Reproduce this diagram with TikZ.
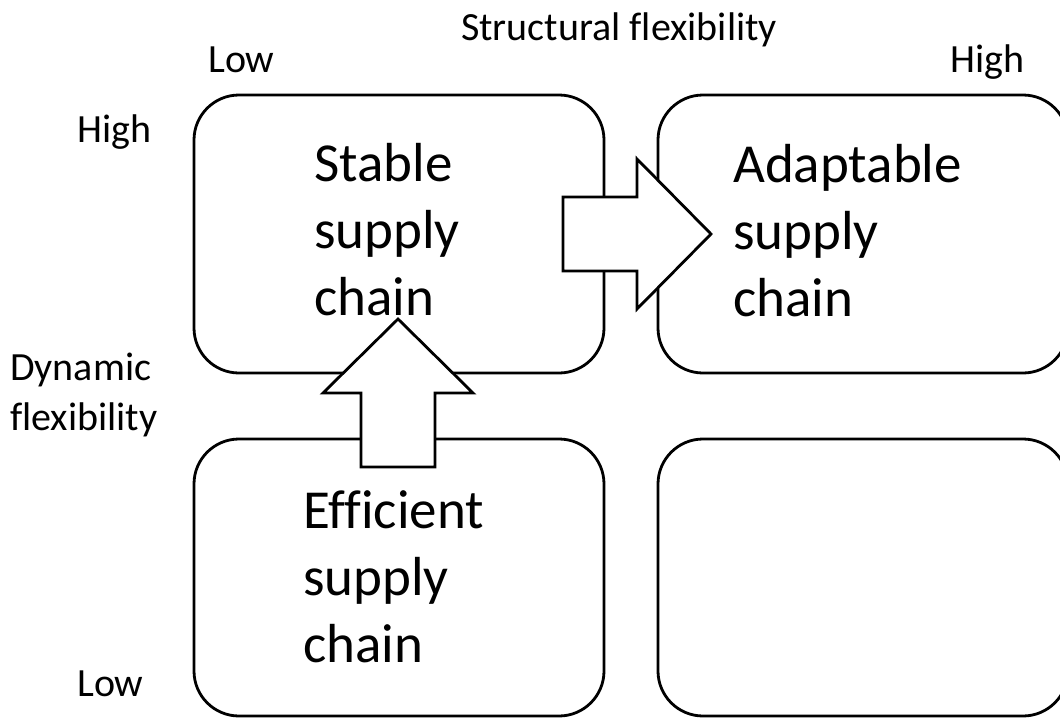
\documentclass[tikz,border=0pt]{standalone}
\usepackage{fontspec}
\setmainfont{Carlito}[Ligatures=NoCommon]
\newcommand{\stackleft}[1]{\begin{tabular}[t]{@{}l@{}}#1\end{tabular}}
\begin{document}
\begin{tikzpicture}[x=1pt,y=-1pt,
  quad/.style={draw=black, line width=2.8pt, rounded corners=45pt},
  blockarrow/.style={draw=black, fill=white, line width=2.8pt, miter limit=10},
  axislabel/.style={inner sep=0pt, anchor=base west, font=\fontsize{40}{50}\selectfont},
  boxtext/.style={inner sep=0pt, anchor=base west, font=\fontsize{55}{67}\selectfont}]
\useasboundingbox (0,0) rectangle (1060,718);
\clip (0,0) rectangle (1060,718);

% the four quadrants
\draw[quad] (194,95) rectangle (604,373);
\draw[quad] (658,95) rectangle (1068,373);
\draw[quad] (194,439) rectangle (604,716);
\draw[quad] (658,439) rectangle (1068,716);

% axis labels
\node[axislabel] (struct) at (461,40) {Structural flexibility};
\node[axislabel] (sLow) at (208,72.7) {Low};
\node[axislabel] (sHigh) at (950,72.7) {High};
\node[axislabel] (dHigh) at (77,142.7) {High};
\node[axislabel] (dyn) at (10,380.7) {\stackleft{Dynamic\\flexibility}};
\node[axislabel] (dLow) at (77,696) {Low};

% quadrant texts
\node[boxtext] (stable) at (314,181.7) {\stackleft{Stable\\supply\\chain}};
\node[boxtext] (adapt) at (733,182.5) {\stackleft{Adaptable\\supply\\chain}};
\node[boxtext] (effic) at (303,528.3) {\stackleft{Efficient\\supply\\chain}};

% block arrows between the quadrants
\draw[blockarrow] (563,197) -- (637,197) -- (637,159) -- (711,234)
  -- (637,309) -- (637,271) -- (563,271) -- cycle;
\draw[blockarrow] (361,467) -- (361,393) -- (323,393) -- (398,319)
  -- (473,393) -- (435,393) -- (435,467) -- cycle;
\end{tikzpicture}
\end{document}
